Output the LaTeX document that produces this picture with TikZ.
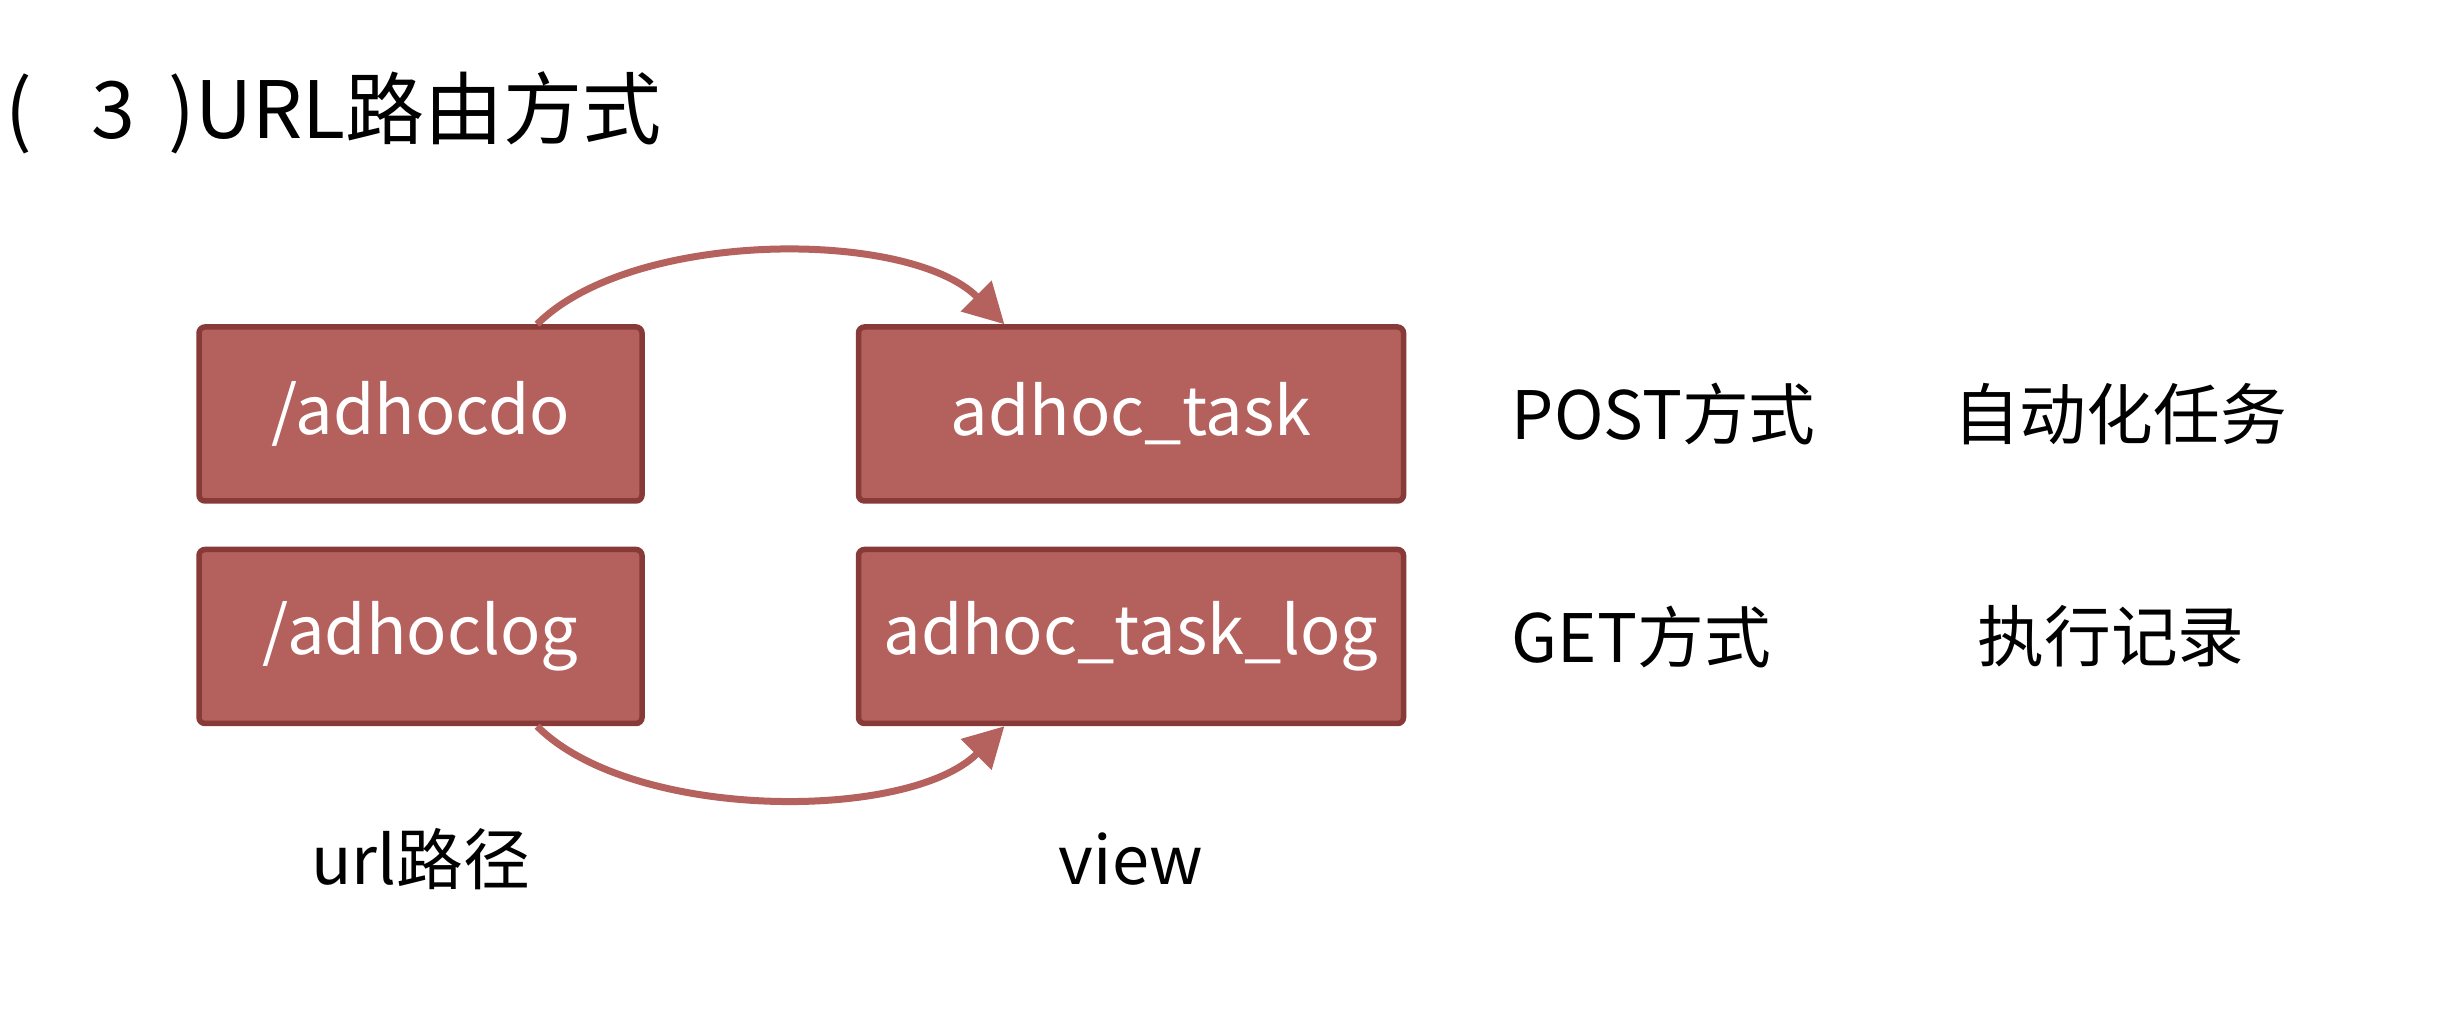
\documentclass[tikz,border=0pt]{standalone}
\usepackage{fontspec}
\setmainfont{Noto Sans CJK SC}
\usepackage{tikz}
\usetikzlibrary{arrows.meta, positioning, calc}
\definecolor{boxfill}{RGB}{180,96,92}
\definecolor{boxedge}{RGB}{135,58,56}
\definecolor{arrowred}{RGB}{181,98,94}

\begin{document}
\begin{tikzpicture}[
      box/.style={rectangle, draw=boxedge, line width=0.55mm, fill=boxfill, rounded corners=0.6mm, text=white, font=\fontsize{19}{23}\selectfont, minimum height=17.4mm},
      lbl/.style={inner sep=0pt, font=\fontsize{19}{23}\selectfont},
      arr/.style={-{Triangle[length=4mm, width=4.2mm]}, line width=0.7mm, arrowred}]
    \fill[white] (0,0) rectangle (24.56,10.10);
    \useasboundingbox (0,0) rectangle (24.56,10.10);
    % title
    \node[anchor=west, inner sep=0pt, font=\fontsize{22.5}{27}\selectfont] (title) at (0.05,8.97) {(\hspace{0.75em}3\hspace{0.42em})URL路由方式};
    % boxes
    \node[box, minimum width=44.3mm] (a) at (4.205,5.96) {/adhocdo};
    \node[box, minimum width=54.5mm, right=21.1mm of a] (b) {adhoc\_task};
    \node[box, minimum width=44.3mm, below=4.3mm of a] (c) {/adhoclog};
    \node[box, minimum width=54.5mm, below=4.3mm of b] (d) {adhoc\_task\_log};
    % labels
    \node[lbl, anchor=west, right=10.5mm of b] (post) {POST方式};
    \node[lbl, anchor=west, right=10.5mm of d] (get) {GET方式};
    \node[lbl] (auto) at (21.2,0 |- b) {自动化任务};
    \node[lbl] (rec) at (21.11,0 |- d) {执行记录};
    \node[lbl] (url) at ($(c.south)+(0,-1.33)$) {url路径};
    \node[lbl] (view) at ($(d.south)+(0,-1.33)$) {view};
    % arrows
    \coordinate (a1) at ($(a.north west)!0.76!(a.north east)$);
    \coordinate (b1) at ($(b.north west)!0.27!(b.north east)$);
    \coordinate (c1) at ($(c.south west)!0.76!(c.south east)$);
    \coordinate (d1) at ($(d.south west)!0.27!(d.south east)$);
    \draw[arr] (a1) to[out=45, in=135, looseness=0.74] (b1);
    \draw[arr] (c1) to[out=-45, in=-135, looseness=0.74] (d1);
  \end{tikzpicture}
\end{document}
